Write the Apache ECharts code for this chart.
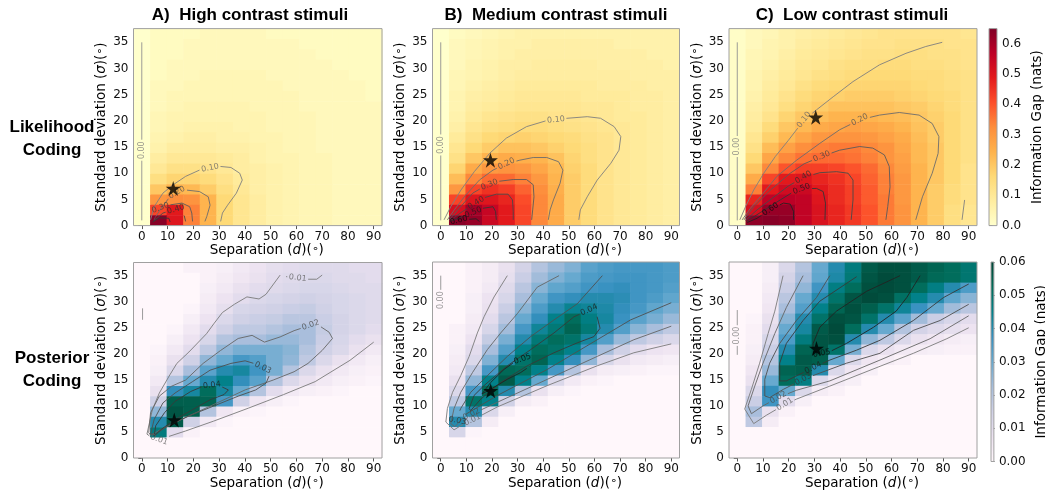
<!DOCTYPE html>
<html><head><meta charset="utf-8">
<script src="https://cdn.jsdelivr.net/npm/echarts@6/dist/echarts.min.js"></script>
<style>html,body{margin:0;padding:0;background:#fff}#c{width:1045px;height:491px}</style>
</head><body><div id="c"></div>
<script>
// Grid of the information-gap maps: cell centres
const sepCenters = [0, 6.43, 12.86, 19.29, 25.71, 32.14, 38.57, 45, 51.43, 57.86, 64.29, 70.71, 77.14, 83.57, 90];
const sdCenters = [0.99, 2.97, 4.95, 6.93, 8.91, 10.89, 12.87, 14.85, 16.83, 18.81, 20.79, 22.77, 24.75, 26.73, 28.71, 30.69, 32.67, 34.65, 36.63];

const sepTicks = [0, 10, 20, 30, 40, 50, 60, 70, 80, 90];
const sdTicks = [0, 5, 10, 15, 20, 25, 30, 35];
const likeBarTicks = [0, 0.1, 0.2, 0.3, 0.4, 0.5, 0.6];
const postBarTicks = [0, 0.01, 0.02, 0.03, 0.04, 0.05, 0.06];

const titles = ['A)  High contrast stimuli', 'B)  Medium contrast stimuli', 'C)  Low contrast stimuli'];
const rowNames = ['Likelihood\nCoding', 'Posterior\nCoding'];

// Likelihood coding, information gap (nats); rows listed from sigma = 36.6 down to 1
const likeHigh = [
 [0,.02,.02,.02,.03,.03,.03,.03,.02,.02,.02,.02,.02,.02,.02],
 [0,.02,.02,.03,.03,.03,.03,.03,.03,.03,.02,.02,.02,.02,.02],
 [0,.02,.02,.03,.03,.03,.03,.03,.03,.03,.03,.02,.02,.02,.02],
 [0,.02,.03,.03,.03,.03,.03,.03,.03,.03,.03,.03,.02,.02,.02],
 [0,.02,.03,.03,.04,.04,.04,.04,.03,.03,.03,.03,.03,.02,.02],
 [0,.03,.03,.04,.04,.04,.04,.04,.04,.03,.03,.03,.03,.03,.02],
 [0,.03,.04,.04,.04,.04,.04,.04,.04,.04,.03,.03,.03,.03,.02],
 [0,.03,.04,.05,.05,.05,.05,.04,.04,.04,.03,.03,.03,.03,.03],
 [0,.04,.05,.05,.05,.05,.05,.05,.04,.04,.04,.03,.03,.03,.03],
 [0,.04,.05,.06,.06,.06,.05,.05,.04,.04,.04,.03,.03,.03,.03],
 [0,.05,.06,.07,.07,.06,.06,.05,.05,.04,.04,.03,.03,.03,.03],
 [0,.06,.08,.08,.08,.07,.07,.06,.05,.04,.04,.03,.03,.03,.03],
 [0,.08,.10,.10,.10,.09,.08,.06,.05,.05,.04,.04,.03,.03,.03],
 [0,.10,.13,.13,.12,.10,.08,.07,.06,.05,.04,.04,.03,.03,.03],
 [0,.14,.17,.17,.15,.12,.09,.07,.06,.05,.04,.04,.03,.03,.03],
 [0,.20,.24,.23,.19,.14,.10,.07,.06,.05,.04,.04,.03,.03,.03],
 [0,.30,.32,.31,.24,.16,.11,.08,.06,.05,.04,.04,.03,.03,.03],
 [0,.42,.49,.34,.24,.16,.11,.08,.06,.05,.04,.04,.03,.03,.03],
 [0,.64,.50,.34,.24,.16,.11,.08,.06,.05,.04,.04,.03,.03,.03]
];
const likeMed = [
 [0,.02,.03,.04,.05,.06,.06,.06,.06,.06,.06,.06,.06,.06,.06],
 [0,.03,.04,.05,.06,.06,.07,.07,.07,.07,.07,.06,.06,.06,.06],
 [0,.03,.04,.05,.06,.07,.07,.07,.07,.07,.07,.07,.07,.06,.06],
 [0,.03,.05,.06,.07,.07,.08,.08,.08,.08,.07,.07,.07,.07,.06],
 [0,.04,.05,.06,.07,.08,.08,.08,.08,.08,.08,.08,.07,.07,.07],
 [0,.04,.06,.07,.08,.09,.09,.09,.09,.09,.08,.08,.08,.07,.07],
 [0,.05,.07,.08,.09,.10,.10,.10,.10,.09,.09,.09,.08,.08,.07],
 [0,.05,.08,.09,.10,.11,.11,.11,.11,.10,.10,.09,.08,.08,.07],
 [0,.06,.09,.11,.12,.13,.13,.12,.12,.11,.10,.09,.09,.08,.07],
 [0,.07,.11,.13,.14,.15,.15,.14,.13,.12,.11,.10,.09,.08,.07],
 [0,.09,.13,.16,.17,.18,.17,.16,.15,.13,.12,.10,.09,.08,.07],
 [0,.11,.16,.19,.21,.21,.20,.18,.16,.14,.12,.10,.09,.08,.07],
 [0,.13,.20,.24,.26,.25,.24,.21,.17,.14,.12,.10,.09,.08,.07],
 [0,.17,.26,.30,.31,.30,.27,.23,.18,.15,.12,.10,.09,.08,.07],
 [0,.22,.33,.37,.37,.34,.30,.24,.19,.15,.12,.10,.09,.08,.07],
 [0,.30,.42,.45,.43,.38,.32,.25,.19,.15,.12,.10,.09,.08,.07],
 [0,.42,.50,.50,.47,.41,.33,.26,.19,.15,.12,.10,.09,.08,.07],
 [0,.52,.60,.55,.49,.42,.33,.26,.19,.15,.12,.10,.09,.08,.07],
 [0,.64,.62,.54,.49,.42,.33,.26,.19,.15,.12,.10,.09,.08,.07]
];
const likeLow = [
 [.01,.03,.04,.06,.07,.08,.09,.10,.11,.12,.12,.12,.12,.12,.11],
 [.01,.03,.05,.06,.08,.09,.10,.11,.12,.12,.13,.13,.13,.12,.12],
 [.01,.04,.05,.07,.09,.10,.11,.12,.13,.13,.14,.14,.13,.13,.12],
 [.01,.04,.06,.08,.10,.11,.13,.14,.14,.15,.15,.14,.14,.13,.12],
 [.01,.05,.07,.09,.11,.13,.14,.15,.16,.16,.16,.15,.15,.14,.13],
 [.01,.05,.08,.10,.13,.15,.16,.17,.17,.17,.17,.16,.15,.14,.13],
 [.01,.06,.09,.12,.15,.17,.18,.19,.19,.19,.18,.17,.16,.15,.13],
 [.01,.07,.10,.14,.17,.19,.21,.21,.21,.21,.20,.19,.17,.15,.13],
 [.01,.08,.12,.17,.20,.22,.24,.24,.24,.23,.22,.20,.18,.16,.13],
 [.01,.09,.15,.20,.23,.26,.27,.28,.27,.26,.24,.21,.19,.16,.13],
 [.01,.11,.18,.23,.27,.30,.31,.31,.30,.28,.26,.22,.19,.16,.13],
 [.01,.13,.22,.28,.32,.34,.35,.35,.33,.31,.27,.23,.20,.16,.13],
 [.01,.16,.27,.33,.36,.37,.37,.36,.34,.31,.28,.23,.20,.16,.13],
 [.01,.20,.33,.40,.43,.43,.42,.40,.37,.33,.29,.24,.20,.16,.12],
 [.01,.26,.42,.49,.50,.47,.45,.42,.38,.34,.30,.24,.20,.16,.12],
 [.01,.34,.49,.53,.54,.49,.46,.43,.39,.34,.30,.24,.19,.15,.12],
 [.01,.47,.56,.57,.56,.50,.46,.43,.39,.35,.30,.24,.19,.15,.12],
 [.01,.52,.62,.62,.56,.51,.47,.44,.40,.35,.31,.24,.19,.14,.11],
 [.01,.63,.64,.63,.56,.51,.47,.44,.40,.35,.31,.24,.19,.14,.11]
];

// Posterior coding, information gap (nats); rows listed from sigma = 36.6 down to 1
const postHigh = [
 [0,0,0,.002,.002,.003,.005,.007,.009,.010,.011,.011,.011,.010,.010],
 [0,0,0,0,.002,.004,.006,.008,.010,.011,.012,.012,.011,.011,.010],
 [0,0,0,0,.003,.005,.008,.010,.011,.012,.013,.013,.012,.011,.011],
 [0,0,0,0,.004,.007,.010,.012,.013,.014,.015,.014,.013,.012,.011],
 [0,0,0,.001,.005,.009,.013,.014,.015,.016,.017,.015,.013,.012,.011],
 [0,0,0,.003,.007,.012,.015,.016,.017,.019,.019,.016,.014,.012,.011],
 [0,0,.001,.005,.010,.015,.018,.018,.020,.022,.022,.017,.014,.012,.010],
 [0,0,.003,.007,.013,.020,.022,.022,.024,.024,.022,.016,.013,.010,.008],
 [0,.001,.005,.010,.018,.025,.028,.028,.028,.026,.020,.015,.012,.008,.005],
 [0,.002,.008,.015,.025,.030,.035,.033,.028,.025,.018,.012,.008,.005,.003],
 [0,.003,.012,.022,.032,.040,.042,.036,.028,.020,.012,.008,.005,.003,.002],
 [0,.005,.020,.030,.040,.045,.038,.032,.020,.012,.008,.005,.003,.002,.001],
 [0,.008,.038,.042,.052,.042,.030,.020,.010,.005,.003,.002,.001,0,0],
 [0,.015,.055,.055,.054,.035,.015,.006,.003,.001,0,0,0,0,0],
 [0,.025,.057,.055,.020,.006,.002,.001,0,0,0,0,0,0,0],
 [0,.040,.056,.015,.005,.001,0,0,0,0,0,0,0,0,0],
 [0,.047,.010,.002,0,0,0,0,0,0,0,0,0,0,0],
 [0,0,0,0,0,0,0,0,0,0,0,0,0,0,0],
 [0,0,0,0,0,0,0,0,0,0,0,0,0,0,0]
];
const postMed = [
 [0,0,.002,.004,.008,.014,.020,.024,.027,.032,.034,.035,.035,.035,.034],
 [0,0,.002,.004,.009,.016,.023,.027,.030,.034,.035,.036,.036,.035,.034],
 [0,0,.002,.005,.011,.019,.026,.031,.033,.036,.037,.038,.036,.035,.033],
 [0,0,.003,.007,.013,.022,.030,.036,.038,.040,.040,.039,.036,.034,.031],
 [0,0,.003,.008,.016,.026,.034,.040,.044,.043,.041,.038,.035,.031,.028],
 [0,0,.004,.010,.019,.030,.038,.045,.052,.046,.042,.037,.032,.028,.024],
 [0,.002,.005,.013,.023,.035,.043,.048,.054,.048,.040,.033,.026,.022,.018],
 [0,.002,.007,.017,.028,.040,.048,.052,.050,.042,.033,.024,.018,.015,.012],
 [0,.003,.010,.022,.033,.045,.052,.050,.045,.035,.022,.015,.010,.007,.006],
 [0,.004,.012,.027,.040,.050,.054,.045,.038,.025,.013,.008,.005,.004,.003],
 [0,.005,.018,.035,.053,.052,.045,.035,.020,.008,.004,.003,.002,.001,.001],
 [0,.008,.025,.045,.056,.045,.030,.012,.005,.002,.001,0,0,0,0],
 [0,.012,.035,.053,.040,.020,.008,.003,.001,0,0,0,0,0,0],
 [0,.018,.050,.045,.015,.004,.002,0,0,0,0,0,0,0,0],
 [0,.030,.040,.012,.003,0,0,0,0,0,0,0,0,0,0],
 [0,.040,.020,.004,0,0,0,0,0,0,0,0,0,0,0],
 [0,.013,.001,0,0,0,0,0,0,0,0,0,0,0,0],
 [0,0,0,0,0,0,0,0,0,0,0,0,0,0,0],
 [0,0,0,0,0,0,0,0,0,0,0,0,0,0,0]
];
const postLow = [
 [0,0,.003,.012,.020,.030,.040,.047,.056,.058,.058,.056,.054,.052,.049],
 [0,0,.003,.014,.022,.031,.041,.048,.057,.059,.058,.056,.053,.052,.049],
 [0,0,.004,.016,.025,.036,.046,.052,.058,.059,.058,.052,.046,.040,.034],
 [0,0,.005,.019,.030,.040,.050,.057,.059,.058,.051,.045,.040,.031,.026],
 [0,0,.006,.022,.033,.045,.054,.058,.055,.050,.043,.037,.030,.023,.019],
 [0,.001,.008,.026,.040,.050,.058,.057,.050,.040,.032,.023,.016,.013,.010],
 [0,.002,.010,.030,.042,.056,.059,.052,.040,.030,.020,.014,.011,.009,.007],
 [0,.002,.013,.034,.047,.057,.058,.040,.025,.018,.012,.008,.006,.004,.003],
 [0,.003,.016,.040,.054,.057,.050,.028,.012,.008,.005,.004,.003,.002,.002],
 [0,.004,.020,.045,.056,.055,.030,.012,.006,.004,.002,0,0,0,0],
 [0,.006,.024,.054,.055,.040,.012,.006,.003,0,0,0,0,0,0],
 [0,.008,.030,.052,.046,.012,.005,.003,0,0,0,0,0,0,0],
 [0,.012,.038,.030,.012,.004,.002,0,0,0,0,0,0,0,0],
 [0,.016,.036,.010,.003,0,0,0,0,0,0,0,0,0,0],
 [0,.022,.008,.002,0,0,0,0,0,0,0,0,0,0,0],
 [0,.018,.004,0,0,0,0,0,0,0,0,0,0,0,0],
 [0,0,0,0,0,0,0,0,0,0,0,0,0,0,0],
 [0,0,0,0,0,0,0,0,0,0,0,0,0,0,0],
 [0,0,0,0,0,0,0,0,0,0,0,0,0,0,0]
];

// Best-fitting (separation, sigma) for each condition
const likeStars = [[12.2, 7.1], [19.4, 12.5], [30.5, 20.7]];
const postStars = [[12.6, 7.3], [19.5, 12.9], [30.8, 21.0]];

// Iso-gap contour lines: level, vertices (separation, sigma), label anchor
const contLikeHigh = [
 {lv: 0.00, pts: [[0,1],[0,35]], at: [0,14.4]},
 {lv: 0.10, pts: [[3.4,1.1],[4.8,3.6],[8.2,6.2],[12.2,7.8],[17,9.4],[22.4,10.6],[26.5,11],[30.6,11.3],[34.6,11.1],[38,10],[39,8.7],[36.7,6.2],[33.3,3.9],[31.3,2.4],[30.6,0.8]], at: [26.5,11]},
 {lv: 0.20, pts: [[5.4,1.7],[7.5,3.3],[10.9,5.5],[13.6,6.3],[17,6.8],[22.4,6.5],[25.8,5.5],[26.5,3.9],[25.2,1.7],[24.5,0.8]], at: [13.6,6.3]},
 {lv: 0.30, pts: [[4.8,1.1],[6.8,3.3],[10.2,3.9],[15.6,4.3],[18.6,3.6],[19.4,2.4],[19.7,0.8]], at: [7.2,3.4]},
 {lv: 0.40, pts: [[4.5,0.8],[8.2,2.4],[13.2,3.1],[15.6,2.7],[16.7,1.7],[17,0.8]], at: [13.2,3.1]},
 {lv: 0.50, pts: [[4.2,0.7],[7,1.5],[10.5,1.4],[11,0.7]]}
];
const contLikeMed = [
 {lv: 0.00, pts: [[0,1],[0,35]], at: [0,15.4]},
 {lv: 0.10, pts: [[1.3,1.1],[3.9,3.6],[7.9,6.8],[13.1,10.3],[19.1,13.8],[25.6,16.7],[33.5,18.9],[41,20],[45,20.2],[49.3,20.5],[57.2,20.8],[62.4,20.5],[67.7,18.9],[70.3,17],[69.6,14.4],[66.4,11.9],[61.1,8.7],[57.2,5.5],[54.5,3],[53.9,1.1]], at: [45,20.2]},
 {lv: 0.20, pts: [[2.6,1.1],[5.3,3],[9.2,5.5],[15.1,8.7],[20.4,10.6],[25.6,11.8],[30.9,12.5],[36.1,13],[41.4,13],[46,12.2],[47.7,10.6],[46.6,8.1],[44,4.9],[42.7,3],[42,1.1]], at: [25.6,11.8]},
 {lv: 0.30, pts: [[3.3,1.1],[7.2,3.3],[12.5,6.2],[16,7.2],[19,7.8],[21.7,8.4],[28.3,8.8],[33.5,8.8],[36.1,7.8],[36.4,5.5],[35.9,3],[35.5,1.1]], at: [19,7.8]},
 {lv: 0.40, pts: [[3.5,0.9],[8.5,2.7],[13.8,4.3],[17.7,5.5],[21.7,6],[26.3,6],[28,4.9],[28.3,2.7],[28.3,1.1]], at: [13.8,4.3]},
 {lv: 0.50, pts: [[3.9,0.8],[8.5,1.7],[12.7,2.5],[16.4,3.3],[20.4,3.6],[21.4,2.7],[21.7,1.1]], at: [12.7,2.5]},
 {lv: 0.60, pts: [[3.9,0.6],[8,1.1],[13.8,1.3],[15.1,0.8]], at: [7,1.1]}
];
const contLikeLow = [
 {lv: 0.00, pts: [[0,1],[0,35]], at: [0,15.1]},
 {lv: 0.10, pts: [[1,1.1],[3.2,3.6],[6.4,6.8],[10.3,10],[14.8,13.2],[19.9,16.3],[26,20.2],[30.8,22.1],[37.3,24.6],[45,27.5],[55.3,30.7],[65.6,32.9],[73.3,34.2],[79.7,35]], at: [26,20.2]},
 {lv: 0.10, pts: [[87.4,1.1],[88.4,4.9]]},
 {lv: 0.20, pts: [[1.9,1.1],[5.1,3.3],[9.6,5.9],[15.4,9.4],[23.1,12.5],[32.1,15.7],[39.8,18.3],[47.6,20.2],[55.3,21.1],[63,21.6],[70.7,21.1],[75.8,19.5],[78.4,17],[78.1,13.8],[75.8,10],[72,5.5],[69.4,1.1]], at: [47.6,20.2]},
 {lv: 0.30, pts: [[2.6,1.1],[6.4,3.6],[12.9,6.8],[20.6,10],[26,11.8],[32.8,13.2],[39.8,14.4],[47.6,15.1],[52.7,14.8],[57.2,13.5],[59.1,11.3],[59.4,7.4],[58.5,3.6],[57.8,1.1]], at: [32.8,13.2]},
 {lv: 0.40, pts: [[3.2,1],[7.7,3],[15.4,5.9],[20,7.6],[25.7,9.2],[32.1,10.1],[38.6,10.3],[43.1,10],[45,8.7],[45,4.9],[44.3,1.1]], at: [25.7,9.2]},
 {lv: 0.50, pts: [[3.6,0.8],[9,2.5],[16.7,4.9],[21,6.2],[25,7],[30.8,7.1],[33.4,6.5],[34.3,4.3],[34.1,1.1]], at: [25,7]},
 {lv: 0.60, pts: [[3.9,0.6],[7.7,1.4],[12.9,3.1],[18,4.3],[20.6,4.1],[21.9,2.7],[21.9,1.1]], at: [12.9,3.1]}
];
const contPostHigh = [
 {lv: 0.00, pts: [[0.3,26.6],[0.3,28.8]]},
 {lv: 0.01, pts: [[2,4.6],[4.1,9.3],[6.8,12.5],[10.9,16],[13.6,18.2],[18.3,20.4],[25.1,23.9],[27.9,25.8],[31.3,28],[36,29.6],[40.8,31],[45.5,30.6],[48.2,31.5],[53.7,35.2]]},
 {lv: 0.01, pts: [[56,34.9],[61.1,34.6],[64.5,34.4],[67.9,34.4],[70,35.2]], at: [60.5,34.6]},
 {lv: 0.01, pts: [[2,4.6],[3.4,4.1],[6.8,3.5],[10.2,4.1],[17,5.2],[27.9,7.1],[41.4,9.6],[55,12.2],[67.3,14.7],[80.8,18.8],[90,22.3]], at: [6.8,3.6]},
 {lv: 0.02, pts: [[2.7,4.9],[3.4,8.7],[6.8,11.9],[11.5,13.8],[17,15],[23.8,18.2],[30.6,20.7],[37.4,23],[42.8,23.6],[47.6,22.3],[53.7,23.3],[59.1,24.5],[67.5,25.9],[72.7,24.2],[74,23],[70,20.7],[64.5,18.2],[59.1,16.6],[51,15],[40.1,13.1],[29.2,10.6],[18.3,8.1],[7.5,5.5],[3.4,4.4],[2.7,4.9]], at: [65.5,25.6]},
 {lv: 0.03, pts: [[3.4,4.6],[4.8,7.4],[8.2,10.6],[12.9,12.5],[19.7,14.7],[26.5,16.9],[34.6,18.2],[40.1,18.7],[43.5,18.2],[48,17.1],[49.6,16],[48.2,14.4],[44.2,13.1],[37.4,11.9],[27.9,10],[18.3,8.1],[10.2,6.2],[5.4,4.6],[3.4,4.6]], at: [47,17.4]},
 {lv: 0.04, pts: [[4.8,4.2],[5.4,6.2],[8.8,8.7],[12.9,10.9],[19,12.8],[23.8,13.8],[27.2,14],[30.6,13.8],[33.6,13.1],[31.9,12.2],[26.5,11.2],[19.7,9.3],[12.9,7.4],[7.5,5.5],[4.8,4.2]], at: [27.2,14]}
];
const contPostMed = [
 {lv: 0.00, pts: [[0,30],[0,35]], at: [0,30.3]},
 {lv: 0.01, pts: [[26,35],[20.8,30.9],[16.9,27.1],[14.3,24],[11.1,19.5],[7.8,15.8],[4.6,12.6],[2.6,9.5],[2,6.9],[5.2,5.4],[7.8,6.2],[12.4,7.3],[22.1,9.8],[41.6,13.9],[61.1,17.7],[75.4,20.2],[90,21.9]], at: [12.4,7.3]},
 {lv: 0.02, pts: [[46.2,35],[37.7,32.8],[29.9,27.7],[23.4,24],[18.2,20.8],[12.4,16.4],[7.8,12.6],[5.2,9.5],[3.9,6.6],[5.5,6],[8.5,7.6],[13,8.6],[22.1,10.7],[41.6,15.1],[61.1,19.5],[75.4,22.7],[90,25.3]], at: [12,8.4]},
 {lv: 0.03, pts: [[63.1,35],[53.3,29.6],[44.2,26.5],[35.1,23.3],[26,19.5],[18.2,15.8],[11.7,12.6],[7.8,9.5],[5.9,7.2],[7,7.1],[9.1,8.2],[22.1,12],[41.6,17],[61.1,22.7],[74.1,26.5],[90,29.8]], at: [6.5,7.2]},
 {lv: 0.04, pts: [[11.1,9.5],[13,12],[16.9,13.9],[26,17.7],[35.1,20.8],[44.2,24],[52,27.1],[57.9,28.4],[61.1,27.1],[62.2,24.9],[59.8,23.3],[53.3,22.1],[44.2,20.2],[33.8,17.7],[23.4,14.5],[15.6,11.3],[11.7,9.1],[11.1,9.5]], at: [57.9,28.4]},
 {lv: 0.05, pts: [[16.1,12.3],[15.6,12.6],[19.5,14.5],[24.7,17],[29,18.5],[31.9,19],[35.1,17.7],[31.2,16.4],[26,15.1],[19.5,13.2],[16.1,12.3]], at: [31.9,19]}
];
const contPostLow = [
 {lv: 0.00, pts: [[0,19.8],[0,28.4]], at: [0,23.5]},
 {lv: 0.01, pts: [[17.8,35],[14.6,28.2],[12,23.9],[8.7,18.2],[5.5,13.2],[2.9,9.4],[6.4,6.6],[11.3,8.2],[16.5,9.7],[18.5,10.3],[23,11.3],[36,13.8],[55.5,17.6],[68.5,20.1],[81.5,22.9],[90,25]], at: [18.5,10.3]},
 {lv: 0.02, pts: [[25.6,35],[19.1,28.9],[14.6,23.9],[10,18.2],[6.8,13.8],[4.2,10],[5.5,8.5],[10,10],[15.9,11.6],[23,13],[36,14.8],[55.5,18.8],[75,22.9],[90,27.3]], at: [15.9,11.6]},
 {lv: 0.03, pts: [[36,35],[30.8,30.8],[23,26.4],[16.5,22],[12.6,18.2],[10.7,15.1],[10.7,11.9],[12.6,11.6],[18,13.2],[25.6,15.1],[32.1,16.3],[42.5,18.2],[55.5,20.1],[68.5,24.5],[78.9,26.4],[90,29.5]], at: [25.6,15.1]},
 {lv: 0.04, pts: [[46.4,34.8],[32.1,30.1],[25.6,26.4],[19.1,22],[16.5,18.2],[16.5,14.8],[19.1,14.8],[24,16],[29.5,17.3],[36,18.8],[46.4,20.7],[55.5,22.6],[68.5,26.4],[80.2,30.8],[90,33.4]], at: [29.5,17.3]},
 {lv: 0.05, pts: [[63.3,35],[50.3,32],[38.6,28.2],[32.1,25.1],[29.5,22],[29.3,19.8],[32.8,20.1],[34.7,20.1],[42.5,22],[53,25.1],[61.8,28.2],[65.9,30.8],[71.1,35]], at: [32.8,20.1]}
];

// Colour maps
const YLORRD = ['#ffffcc','#ffeda0','#fed976','#feb24c','#fd8d3c','#fc4e2a','#e31a1c','#bd0026','#800026'];
const PUBUGN = ['#fff7fb','#ece2f0','#d0d1e6','#a6bddb','#67a9cf','#3690c0','#02818a','#016c59','#014636'];
const LIKE_MAX = 0.65, POST_MAX = 0.06;

// Layout of the six maps and the two colour bars (px)
const panels = [
 {left: 133.5, top: 28.6, width: 248.5, height: 197},
 {left: 432.5, top: 28.6, width: 247, height: 197},
 {left: 729, top: 28.6, width: 248, height: 197},
 {left: 133.5, top: 262.5, width: 248.5, height: 198.5},
 {left: 432.5, top: 262, width: 247, height: 199.5},
 {left: 729, top: 262, width: 248, height: 199.5}
];
const bars = [
 {left: 989, top: 28.6, width: 11.5, height: 197},
 {left: 991, top: 262, width: 11.5, height: 199.5}
];

const FONT = '"DejaVu Sans", sans-serif';
const CW = sepCenters[1] - sepCenters[0];
const CH = sdCenters[1] - sdCenters[0];
const XMIN = sepCenters[0] - CW / 2, XMAX = sepCenters[sepCenters.length - 1] + CW / 2;
const YMIN = 0, YMAX = sdCenters[sdCenters.length - 1] + CH / 2;

const maps = [likeHigh, likeMed, likeLow, postHigh, postMed, postLow];
const conts = [contLikeHigh, contLikeMed, contLikeLow, contPostHigh, contPostMed, contPostLow];
const stars = likeStars.concat(postStars);

function toCells(M) {
  const out = [];
  const n = M.length;
  M.forEach((row, k) => {
    const y = sdCenters[n - 1 - k];
    row.forEach((v, j) => out.push([sepCenters[j], y, v]));
  });
  return out;
}

function cellItem(params, api) {
  const x = api.value(0), y = api.value(1);
  const a = api.coord([x - CW / 2, y + CH / 2]);
  const b = api.coord([x + CW / 2, y - CH / 2]);
  return {
    type: 'rect',
    shape: {x: a[0], y: a[1], width: b[0] - a[0] + 0.6, height: b[1] - a[1] + 0.6},
    style: {fill: api.visual('color')}
  };
}

function frameItem(params, api) {
  const a = api.coord([XMIN, YMAX]);
  const b = api.coord([XMAX, YMIN]);
  return {
    type: 'rect',
    shape: {x: a[0], y: a[1], width: b[0] - a[0], height: b[1] - a[1]},
    style: {fill: 'none', stroke: '#a0a0a0', lineWidth: 1}
  };
}

// Break a contour line around its inline label, return pieces, label position and angle
function breakAtLabel(pts, at, r, sx, sy) {
  if (!at) return {segs: [pts]};
  const P = pts.map(p => [p[0] * sx, p[1] * sy]);
  const q = [at[0] * sx, at[1] * sy];
  let best = null;
  for (let i = 0; i < P.length - 1; i++) {
    const a = P[i], b = P[i + 1];
    const dx = b[0] - a[0], dy = b[1] - a[1];
    const L2 = dx * dx + dy * dy || 1e-9;
    let t = ((q[0] - a[0]) * dx + (q[1] - a[1]) * dy) / L2;
    t = Math.max(0, Math.min(1, t));
    const c = [a[0] + t * dx, a[1] + t * dy];
    const d = Math.hypot(c[0] - q[0], c[1] - q[1]);
    if (!best || d < best.d) best = {d, c, dx, dy};
  }
  const C = best.c;
  let ang = Math.atan2(best.dy, best.dx) * 180 / Math.PI;
  if (ang > 90) ang -= 180;
  if (ang <= -90) ang += 180;
  const inside = p => Math.hypot(p[0] - C[0], p[1] - C[1]) < r;
  const segs = [];
  let cur = inside(P[0]) ? [] : [P[0]];
  for (let i = 1; i < P.length; i++) {
    const a = P[i - 1], b = P[i];
    const dx = b[0] - a[0], dy = b[1] - a[1];
    const fx = a[0] - C[0], fy = a[1] - C[1];
    const A = dx * dx + dy * dy, B = 2 * (fx * dx + fy * dy), Cc = fx * fx + fy * fy - r * r;
    const disc = B * B - 4 * A * Cc;
    if (A > 0 && disc > 0) {
      const s = Math.sqrt(disc);
      const t1 = (-B - s) / (2 * A), t2 = (-B + s) / (2 * A);
      if (t1 > 0 && t1 < 1) {
        cur.push([a[0] + t1 * dx, a[1] + t1 * dy]);
        if (cur.length > 1) segs.push(cur);
        cur = [];
      }
      if (t2 > 0 && t2 < 1) cur = [[a[0] + t2 * dx, a[1] + t2 * dy]];
    }
    if (!inside(b)) cur.push(b);
  }
  if (cur.length > 1) segs.push(cur);
  return {
    segs: segs.map(s => s.map(p => [p[0] / sx, p[1] / sy])),
    pos: [C[0] / sx, C[1] / sy],
    rot: ang
  };
}

function greyOf(lv, top, shift) {
  const f = top ? lv / 0.6 : lv / 0.05;
  const g = Math.max(0, Math.round(145 - 110 * f - shift));
  return `rgb(${g},${g},${g})`;
}

const nameRich = {
  i: {fontFamily: FONT, fontSize: 13.5, fontStyle: 'italic', color: '#000'},
  s: {fontFamily: FONT, fontSize: 11, color: '#000', verticalAlign: 'top', lineHeight: 12}
};
const nameStyle = {fontFamily: FONT, fontSize: 13.5, color: '#000', rich: nameRich};

const grid = [], xAxis = [], yAxis = [], series = [];

panels.forEach((p, i) => {
  grid.push({left: p.left, top: p.top, width: p.width, height: p.height});
  xAxis.push({
    type: 'value', gridIndex: i, min: XMIN, max: XMAX,
    name: 'Separation ({i|d})({s|∘})', nameLocation: 'middle', nameGap: 18, nameMoveOverlap: false,
    nameTextStyle: Object.assign({}, nameStyle, {padding: [0, 0, 0, 18]}),
    axisLine: {show: false}, splitLine: {show: false},
    axisTick: {show: true, length: 3.5, lineStyle: {color: '#555'}, customValues: sepTicks},
    axisLabel: {fontFamily: FONT, fontSize: 12, color: '#111', margin: 5, customValues: sepTicks, formatter: v => String(v)}
  });
  yAxis.push({
    type: 'value', gridIndex: i, min: YMIN, max: YMAX,
    name: 'Standard deviation ({i|σ})({s|∘})', nameLocation: 'middle', nameGap: 25, nameRotate: 90, nameMoveOverlap: false,
    nameTextStyle: nameStyle,
    axisLine: {show: false}, splitLine: {show: false},
    axisTick: {show: true, length: 3.5, lineStyle: {color: '#555'}, customValues: sdTicks},
    axisLabel: {fontFamily: FONT, fontSize: 12, color: '#111', margin: 5, customValues: sdTicks, formatter: v => String(v)}
  });
});

// colour-bar axes
bars.forEach((b, k) => {
  const gi = panels.length + k;
  const top = k === 0;
  grid.push({left: b.left, top: b.top, width: b.width, height: b.height});
  xAxis.push({type: 'value', gridIndex: gi, min: 0, max: 1, show: false});
  yAxis.push({
    type: 'value', gridIndex: gi, position: 'right', min: 0, max: top ? LIKE_MAX : POST_MAX,
    name: 'Information Gap (nats)', nameLocation: 'middle', nameGap: top ? 33 : 41, nameRotate: 90, nameMoveOverlap: false,
    nameTextStyle: {fontFamily: FONT, fontSize: 13.5, color: '#000'},
    axisLine: {show: false}, splitLine: {show: false},
    axisTick: {show: true, length: 3.5, lineStyle: {color: '#555'}, customValues: top ? likeBarTicks : postBarTicks},
    axisLabel: {fontFamily: FONT, fontSize: 12, color: '#111', margin: 5, customValues: top ? likeBarTicks : postBarTicks,
      formatter: v => v.toFixed(top ? 1 : 2)}
  });
});

// heat maps
maps.forEach((M, i) => {
  series.push({
    type: 'custom', xAxisIndex: i, yAxisIndex: i, clip: true, silent: true, z: 1,
    encode: {x: 0, y: 1},
    renderItem: cellItem, data: toCells(M)
  });
});

// frames, contours, labels, stars
panels.forEach((p, i) => {
  const top = i < 3;
  const sx = p.width / (XMAX - XMIN), sy = p.height / (YMAX - YMIN);
  const labelData = [];
  conts[i].forEach(c => {
    const col = greyOf(c.lv, top, 0);
    const txt = c.lv.toFixed(2);
    const r = breakAtLabel(c.pts, c.at, 10.5, sx, sy);
    r.segs.forEach(seg => {
      series.push({
        type: 'line', xAxisIndex: i, yAxisIndex: i, data: seg, showSymbol: false, symbol: 'none',
        silent: true, z: 3, animation: false, clip: true,
        lineStyle: {color: col, width: 0.9}
      });
    });
    if (r.pos) {
      labelData.push({
        value: r.pos,
        label: {show: true, formatter: txt, rotate: r.rot, color: greyOf(c.lv, top, 25), fontSize: 8, fontFamily: FONT,
          position: 'inside', align: 'center', verticalAlign: 'middle'}
      });
    }
  });
  series.push({
    type: 'scatter', xAxisIndex: i, yAxisIndex: i, symbolSize: 0, silent: true, z: 4,
    data: labelData
  });
  series.push({
    type: 'scatter', xAxisIndex: i, yAxisIndex: i, silent: true, z: 6,
    symbol: 'path://M50,0 L61.2,34.5 L97.6,34.5 L68.2,55.9 L79.4,90.5 L50,69.1 L20.6,90.5 L31.8,55.9 L2.4,34.5 L38.8,34.5 Z',
    symbolSize: 15, itemStyle: {color: '#000'},
    data: [stars[i]]
  });
  series.push({
    type: 'custom', xAxisIndex: i, yAxisIndex: i, silent: true, z: 7, clip: false,
    renderItem: frameItem, data: [[0]]
  });
});

// colour bars
bars.forEach((b, k) => {
  const gi = panels.length + k;
  const cmap = k === 0 ? YLORRD : PUBUGN;
  const vmax = k === 0 ? LIKE_MAX : POST_MAX;
  const stops = cmap.map((c, n) => ({offset: n / (cmap.length - 1), color: c}));
  series.push({
    type: 'custom', xAxisIndex: gi, yAxisIndex: gi, silent: true, clip: false,
    data: [[0]],
    renderItem: (params, api) => {
      const a = api.coord([0, vmax]);
      const c = api.coord([1, 0]);
      const shape = {x: a[0], y: a[1], width: c[0] - a[0], height: c[1] - a[1]};
      return {
        type: 'group',
        children: [
          {type: 'rect', shape, style: {fill: new echarts.graphic.LinearGradient(0, 1, 0, 0, stops)}},
          {type: 'rect', shape, style: {fill: 'none', stroke: '#a0a0a0', lineWidth: 1}}
        ]
      };
    }
  });
});

const titleX = [250, 556, 852];
const graphic = titles.map((t, i) => ({
  type: 'text', x: titleX[i], y: 15,
  style: {text: t, font: 'bold 17px "Liberation Sans", Arial, sans-serif', fill: '#000', textAlign: 'center', textVerticalAlign: 'middle'}
})).concat(rowNames.map((t, i) => ({
  type: 'text', x: 52, y: i === 0 ? 139 : 370,
  style: {text: t, font: 'bold 17px "Liberation Sans", Arial, sans-serif', fill: '#000', textAlign: 'center', textVerticalAlign: 'middle', lineHeight: 23}
})));

const chart = echarts.init(document.getElementById('c'), null, {renderer: 'canvas'});
chart.setOption({
  animation: false,
  backgroundColor: '#fff',
  grid, xAxis, yAxis, series, graphic,
  visualMap: [
    {type: 'continuous', show: false, min: 0, max: LIKE_MAX, dimension: 2, seriesIndex: [0, 1, 2], inRange: {color: YLORRD}},
    {type: 'continuous', show: false, min: 0, max: POST_MAX, dimension: 2, seriesIndex: [3, 4, 5], inRange: {color: PUBUGN}}
  ]
});
</script>
</body></html>
